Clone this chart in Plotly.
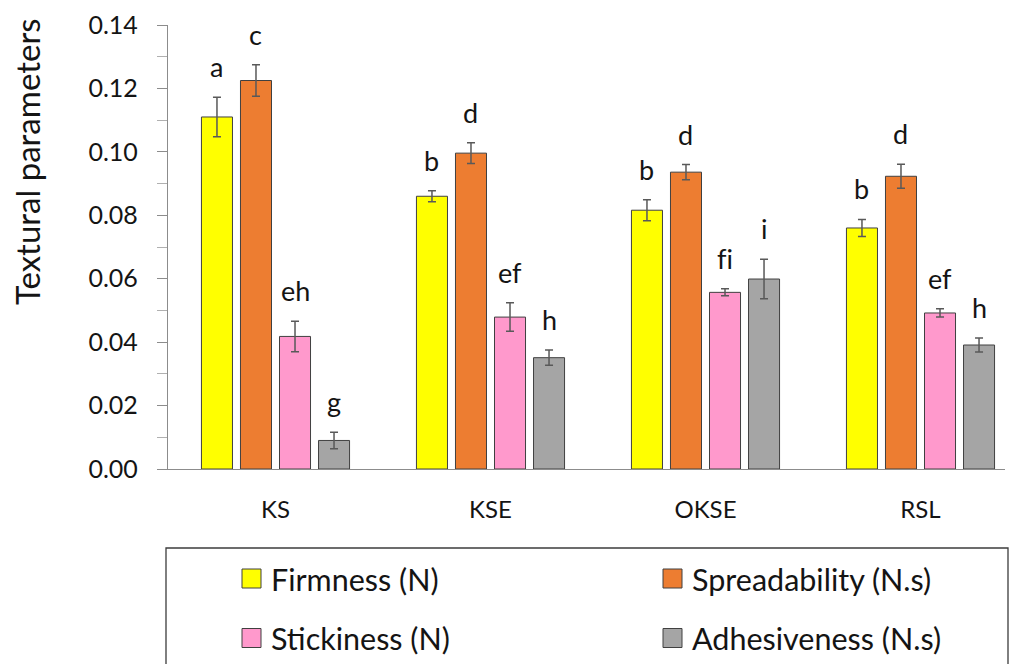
import plotly.graph_objects as go

# ---- data ----
samples = ["KS", "KSE", "OKSE", "RSL"]
series_names = ["Firmness (N)", "Spreadability (N.s)", "Stickiness (N)", "Adhesiveness (N.s)"]

firmness = [0.111, 0.086, 0.0816, 0.076]
firmness_err = [0.0062, 0.0017, 0.0033, 0.0027]
spreadability = [0.1225, 0.0996, 0.0936, 0.0923]
spreadability_err = [0.0050, 0.0033, 0.0024, 0.0038]
stickiness = [0.0418, 0.0479, 0.0557, 0.0492]
stickiness_err = [0.0048, 0.0045, 0.0011, 0.0013]
adhesiveness = [0.0090, 0.0351, 0.0599, 0.0391]
adhesiveness_err = [0.0026, 0.0024, 0.0062, 0.0022]

# "\u200c" keeps f and i from fusing into a ligature
firmness_letters = ["a", "b", "b", "b"]
spreadability_letters = ["c", "d", "d", "d"]
stickiness_letters = ["eh", "ef", "f\u200ci", "ef"]
adhesiveness_letters = ["g", "h", "i", "h"]

y_ticks = [0.00, 0.02, 0.04, 0.06, 0.08, 0.10, 0.12, 0.14]

# ---- styling ----
colors = ["#FFFF00", "#ED7D31", "#FF99CC", "#A5A5A5"]
FONT = "Lato"
TXT = "#141414"
W, H = 1014, 664
M_L, M_R, M_T, M_B = 168, 9, 25, 195
BARGAP, GROUPGAP = 0.274, 0.205

values = [firmness, spreadability, stickiness, adhesiveness]
errors = [firmness_err, spreadability_err, stickiness_err, adhesiveness_err]
letters = [firmness_letters, spreadability_letters, stickiness_letters, adhesiveness_letters]

fig = go.Figure()
for name, col, vals, errs in zip(series_names, colors, values, errors):
    fig.add_trace(go.Bar(
        x=samples, y=vals, name=name,
        marker=dict(color=col, line=dict(color="#404040", width=1)),
        error_y=dict(type="data", array=errs, visible=True,
                     color="#595959", thickness=1.5, width=4),
        showlegend=False,
    ))

# significance letters above each error bar
n_series = len(series_names)
slot = (1 - BARGAP) / n_series
annotations = []
for j in range(n_series):
    for i in range(len(samples)):
        annotations.append(dict(
            x=i + (j - (n_series - 1) / 2) * slot,
            y=values[j][i] + errors[j][i],
            xref="x", yref="y", text=letters[j][i], showarrow=False,
            yanchor="bottom", yshift=12,
            font=dict(family=FONT, size=27, color=TXT),
        ))


def px_x(p):
    return (p - M_L) / (W - M_L - M_R)


def px_y(p):
    return (H - M_B - p) / (H - M_T - M_B)


# y-axis title
annotations.append(dict(x=px_x(27), y=px_y(162), xref="paper", yref="paper",
                        xanchor="center", yanchor="middle", showarrow=False,
                        textangle=-90, text="Textural parameters",
                        font=dict(family=FONT, size=33, color=TXT)))

# legend panel drawn below the plot
shapes = [dict(type="rect", xref="paper", yref="paper",
               x0=px_x(166), x1=px_x(1008), y0=px_y(680), y1=px_y(548),
               line=dict(color="#3c3c3c", width=1.3), fillcolor="rgba(0,0,0,0)",
               layer="above")]
legend_cols = [242, 663]
legend_rows = [578.5, 638]
for k, (name, col) in enumerate(zip(series_names, colors)):
    cx = legend_cols[k % 2]
    cy = legend_rows[k // 2]
    shapes.append(dict(type="rect", xref="paper", yref="paper",
                       x0=px_x(cx), x1=px_x(cx + 19),
                       y0=px_y(cy + 9.5), y1=px_y(cy - 9.5),
                       fillcolor=col, line=dict(color="#404040", width=1)))
    annotations.append(dict(x=px_x(cx + 27), y=px_y(cy), xref="paper", yref="paper",
                            xanchor="left", yanchor="middle", showarrow=False,
                            text=name, font=dict(family=FONT, size=30.5, color=TXT)))

fig.update_layout(
    width=W, height=H,
    margin=dict(l=M_L, r=M_R, t=M_T, b=M_B),
    paper_bgcolor="white", plot_bgcolor="white",
    barmode="group", bargap=BARGAP, bargroupgap=GROUPGAP,
    font=dict(family=FONT, color=TXT),
    shapes=shapes, annotations=annotations,
    xaxis=dict(
        range=[-0.5, -0.5 + (W - M_L - M_R) / 215],
        showline=True, linecolor="#8c8c8c", linewidth=1.3,
        ticks="", showgrid=False, zeroline=False,
        tickfont=dict(family=FONT, size=24, color=TXT),
        ticklabelstandoff=19,
    ),
    yaxis=dict(
        range=[0, 0.14], tickvals=y_ticks, tickformat=".2f",
        showline=True, linecolor="#8c8c8c", linewidth=1.3,
        ticks="outside", ticklen=10, tickcolor="#8c8c8c", tickwidth=1.3,
        minor=dict(dtick=0.01, ticks="outside", ticklen=10,
                   tickcolor="#b0b0b0", tickwidth=1),
        showgrid=False, zeroline=False,
        tickfont=dict(family=FONT, size=25, color=TXT),
        ticklabelstandoff=14,
    ),
)

fig.write_html("out.html")
